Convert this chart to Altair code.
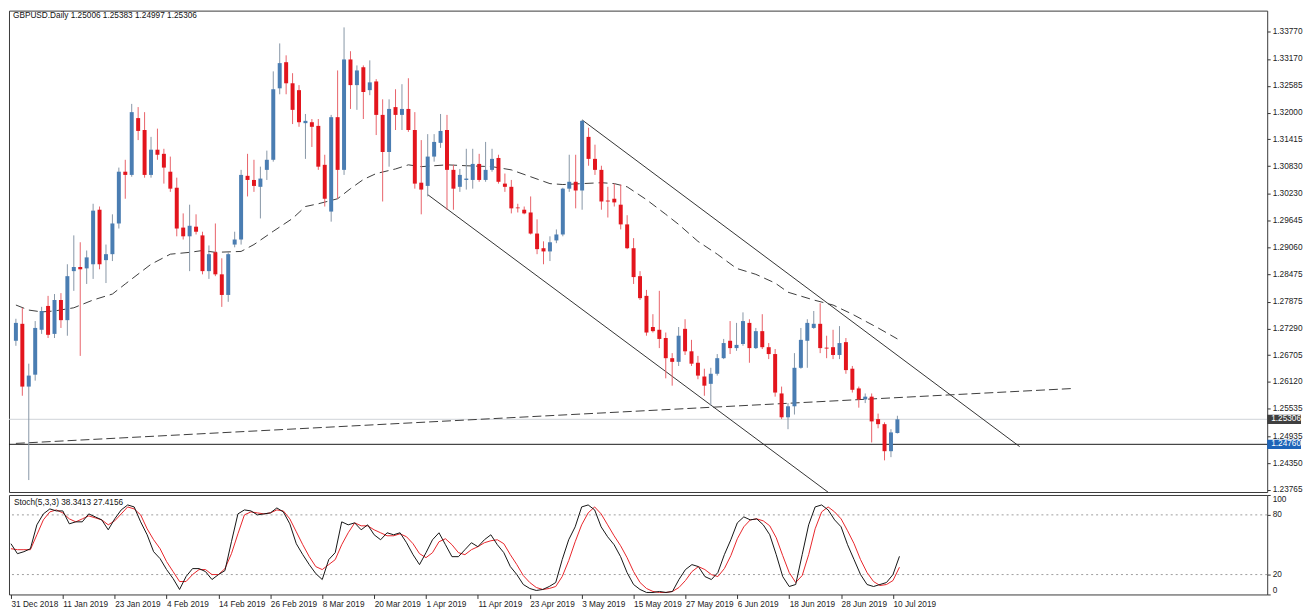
import altair as alt
import pandas as pd

# ---------------- data ----------------
date_labels = ["31 Dec 2018", "11 Jan 2019", "23 Jan 2019", "4 Feb 2019", "14 Feb 2019",
               "26 Feb 2019", "8 Mar 2019", "20 Mar 2019", "1 Apr 2019", "11 Apr 2019",
               "23 Apr 2019", "3 May 2019", "15 May 2019", "27 May 2019", "6 Jun 2019",
               "18 Jun 2019", "28 Jun 2019", "10 Jul 2019"]

opens = [1.2702, 1.2739, 1.2602, 1.2628, 1.2726, 1.2778, 1.2717, 1.2791, 1.2747, 1.2854,
         1.2863, 1.2860, 1.2869, 1.2988, 1.2878, 1.2891, 1.2958, 1.3071, 1.3064, 1.3188,
         1.3162, 1.3064, 1.3119, 1.3110, 1.3071, 1.3036, 1.2949, 1.2930, 1.2951, 1.2932,
         1.2854, 1.2895, 1.2847, 1.2802, 1.2912, 1.2923, 1.3062, 1.3053, 1.3038, 1.3075,
         1.3097, 1.3253, 1.3310, 1.3264, 1.3249, 1.3177, 1.3179, 1.3171, 1.3086, 1.2984,
         1.3190, 1.3075, 1.3316, 1.3260, 1.3299, 1.3249, 1.3268, 1.3195, 1.3114, 1.3212,
         1.3195, 1.3208, 1.3162, 1.3047, 1.3040, 1.3104, 1.3134, 1.3162, 1.3075, 1.3038,
         1.3053, 1.3053, 1.3088, 1.3053, 1.3075, 1.3101, 1.3045, 1.3038, 1.2993, 1.2988,
         1.2982, 1.2936, 1.2904, 1.2897, 1.2921, 1.2934, 1.3034, 1.3049, 1.3030, 1.3147,
         1.3099, 1.3075, 1.3008, 1.3012, 1.2999, 1.2956, 1.2904, 1.2843, 1.2800, 1.2732,
         1.2726, 1.2708, 1.2664, 1.2656, 1.2728, 1.2679, 1.2654, 1.2624, 1.2608, 1.2630,
         1.2664, 1.2702, 1.2686, 1.2695, 1.2741, 1.2686, 1.2723, 1.2688, 1.2673, 1.2587,
         1.2535, 1.2559, 1.2643, 1.2702, 1.2730, 1.2739, 1.2687, 1.2688, 1.2671, 1.2699,
         1.2641, 1.2598, 1.2574, 1.2580, 1.2531, 1.2520, 1.2461, 1.25006]
highs = [1.2750, 1.2774, 1.2652, 1.2745, 1.2776, 1.2800, 1.2804, 1.2806, 1.2869, 1.2932,
         1.2917, 1.2899, 1.3001, 1.2995, 1.2912, 1.2978, 1.3080, 1.3097, 1.3219, 1.3212,
         1.3201, 1.3147, 1.3165, 1.3121, 1.3104, 1.3058, 1.2980, 1.2999, 1.2978, 1.2940,
         1.2910, 1.2958, 1.2882, 1.2895, 1.2940, 1.3075, 1.3110, 1.3097, 1.3082, 1.3117,
         1.3290, 1.3351, 1.3325, 1.3286, 1.3260, 1.3197, 1.3186, 1.3186, 1.3108, 1.3195,
         1.3292, 1.3386, 1.3334, 1.3303, 1.3303, 1.3314, 1.3273, 1.3229, 1.3229, 1.3251,
         1.3262, 1.3275, 1.3201, 1.3140, 1.3153, 1.3153, 1.3197, 1.3195, 1.3086, 1.3077,
         1.3121, 1.3121, 1.3110, 1.3136, 1.3121, 1.3108, 1.3067, 1.3053, 1.3001, 1.2995,
         1.3017, 1.2967, 1.2919, 1.2930, 1.2945, 1.3036, 1.3108, 1.3108, 1.3184, 1.3167,
         1.3130, 1.3084, 1.3038, 1.3045, 1.3043, 1.2976, 1.2926, 1.2854, 1.2813, 1.2760,
         1.2811, 1.2720, 1.2675, 1.2732, 1.2749, 1.2704, 1.2669, 1.2641, 1.2643, 1.2673,
         1.2706, 1.2745, 1.2741, 1.2764, 1.2749, 1.2730, 1.2760, 1.2697, 1.2684, 1.2602,
         1.2566, 1.2675, 1.2730, 1.2749, 1.2767, 1.2784, 1.2713, 1.2726, 1.2734, 1.2708,
         1.2647, 1.2602, 1.2587, 1.2587, 1.2543, 1.2524, 1.2509, 1.25383]
lows = [1.2691, 1.2582, 1.2398, 1.2615, 1.2717, 1.2708, 1.2708, 1.2730, 1.2713, 1.2811,
        1.2669, 1.2826, 1.2837, 1.2858, 1.2828, 1.2876, 1.2947, 1.3012, 1.3060, 1.3140,
        1.3058, 1.3058, 1.3097, 1.3045, 1.3027, 1.2930, 1.2923, 1.2854, 1.2934, 1.2847,
        1.2837, 1.2843, 1.2776, 1.2787, 1.2906, 1.2912, 1.3017, 1.3027, 1.2969, 1.3053,
        1.3093, 1.3240, 1.3240, 1.3175, 1.3169, 1.3099, 1.3125, 1.3075, 1.2995, 1.2962,
        1.3012, 1.3064, 1.3208, 1.3206, 1.3186, 1.3238, 1.3151, 1.3006, 1.3082, 1.3162,
        1.3162, 1.3158, 1.3034, 1.2978, 1.3017, 1.3093, 1.3123, 1.2988, 1.2988, 1.3027,
        1.3032, 1.3034, 1.3049, 1.3049, 1.3071, 1.3045, 1.3027, 1.2980, 1.2982, 1.2978,
        1.2934, 1.2891, 1.2869, 1.2876, 1.2915, 1.2930, 1.3027, 1.2991, 1.2988, 1.3084,
        1.3064, 1.2988, 1.2971, 1.2995, 1.2945, 1.2902, 1.2826, 1.2791, 1.2713, 1.2720,
        1.2686, 1.2620, 1.2604, 1.2647, 1.2671, 1.2647, 1.2618, 1.2582, 1.2561, 1.2626,
        1.2662, 1.2673, 1.2680, 1.2691, 1.2654, 1.2684, 1.2684, 1.2662, 1.2580, 1.2531,
        1.2509, 1.2541, 1.2641, 1.2643, 1.2728, 1.2675, 1.2664, 1.2662, 1.2662, 1.2630,
        1.2589, 1.2556, 1.2566, 1.2480, 1.2511, 1.2441, 1.2448, 1.24997]
closes = [1.2741, 1.2602, 1.2626, 1.2730, 1.2767, 1.2715, 1.2791, 1.2747, 1.2843, 1.2863,
          1.2858, 1.2884, 1.2986, 1.2869, 1.2891, 1.2958, 1.3071, 1.3064, 1.3201, 1.3160,
          1.3064, 1.3119, 1.3108, 1.3080, 1.3034, 1.2947, 1.2930, 1.2953, 1.2940, 1.2854,
          1.2891, 1.2847, 1.2802, 1.2891, 1.2923, 1.3064, 1.3053, 1.3040, 1.3056, 1.3097,
          1.3251, 1.3308, 1.3264, 1.3206, 1.3179, 1.3182, 1.3169, 1.3082, 1.3012, 1.3190,
          1.3075, 1.3316, 1.3260, 1.3292, 1.3245, 1.3266, 1.3195, 1.3114, 1.3208, 1.3195,
          1.3208, 1.3162, 1.3045, 1.3032, 1.3104, 1.3136, 1.3160, 1.3075, 1.3034, 1.3064,
          1.3056, 1.3088, 1.3053, 1.3075, 1.3099, 1.3049, 1.3038, 1.2991, 1.2991, 1.2980,
          1.2936, 1.2902, 1.2897, 1.2917, 1.2934, 1.3034, 1.3049, 1.3030, 1.3182, 1.3099,
          1.3075, 1.3006, 1.3006, 1.3004, 1.2956, 1.2904, 1.2841, 1.2795, 1.2720, 1.2723,
          1.2706, 1.2664, 1.2656, 1.2713, 1.2679, 1.2652, 1.2626, 1.2604, 1.2630, 1.2664,
          1.2697, 1.2686, 1.2693, 1.2745, 1.2686, 1.2723, 1.2688, 1.2673, 1.2589, 1.2535,
          1.2559, 1.2643, 1.2704, 1.2741, 1.2739, 1.2686, 1.2685, 1.2671, 1.2697, 1.2638,
          1.2595, 1.2574, 1.2580, 1.2526, 1.2520, 1.2461, 1.2502, 1.25306]

# dashed moving average (bar index, price)
ma_bar = [0, 2, 4, 6, 9, 12, 15, 17, 21, 24, 27, 29, 31, 35, 37, 40, 43, 45, 47, 50,
          52, 54, 56, 59, 61, 63, 67, 70, 74, 77, 80, 83, 85, 88, 91, 93, 95, 98, 101, 103,
          106, 109, 112, 115, 118, 120, 124, 127, 130, 134, 137]
ma_val = [1.2780, 1.2769, 1.2765, 1.2767, 1.2774, 1.2791, 1.2804, 1.2826, 1.2869, 1.2891,
          1.2895, 1.2899, 1.2895, 1.2897, 1.2912, 1.2941, 1.2969, 1.2995, 1.3001, 1.3012,
          1.3034, 1.3054, 1.3067, 1.3077, 1.3086, 1.3082, 1.3086, 1.3084, 1.3082, 1.3075,
          1.3060, 1.3045, 1.3043, 1.3045, 1.3047, 1.3045, 1.3038, 1.3010, 1.2978, 1.2956,
          1.2919, 1.2891, 1.2860, 1.2847, 1.2828, 1.2808, 1.2791, 1.2780, 1.2760, 1.2730,
          1.2706]

# drawn trend lines: (name, bar, price)
trend_name = ["lower", "lower", "upper", "upper"]
trend_bar = [64, 128, 88, 156]
trend_price = [1.3021, 1.2353, 1.3184, 1.2471]
long_bar = [0, 164.5]
long_price = [1.2478, 1.2598]
hline_price = [1.24760]

price_ticks = [1.23765, 1.24350, 1.24935, 1.25535, 1.26120, 1.26705, 1.27290, 1.27875,
               1.28475, 1.29060, 1.29645, 1.30230, 1.30830, 1.31415, 1.32000, 1.32585,
               1.33170, 1.33770]

# Stochastic(5,3,3)
stoch_k = [51, 41, 43, 46, 70, 81, 86, 84, 84, 71, 73, 73, 81, 78, 75, 65, 76, 85, 90, 88,
           73, 60, 43, 36, 25, 16, 5, 18, 26, 26, 23, 15, 20, 24, 53, 81, 85, 84, 80, 81,
           82, 87, 83, 71, 51, 40, 30, 21, 15, 35, 42,
           73, 70, 72, 65, 70, 60, 55, 62, 60, 62, 52, 40, 30, 42, 55, 62, 50, 38, 38, 45,
           52, 48, 55, 60, 50, 42, 28, 20, 10, 6, 4, 5, 8, 12, 35, 55, 68, 88, 90, 85,
           68, 58, 50, 38, 22, 10, 5, 2, 2, 3, 2, 3, 15, 25, 30, 28, 18, 15, 22, 40,
           55, 72, 78, 75, 76, 70, 60, 40, 18, 8, 10, 40, 70, 88, 90, 85, 75, 68, 50, 35,
           20, 10, 8, 10, 12, 20, 38.3413]
stoch_d = [46, 45, 45, 45, 60, 75, 83, 85, 82, 76, 73, 76, 79, 77, 75, 70, 74, 81, 88, 86,
           80, 66, 55, 46, 33, 23, 13, 13, 20, 25, 25, 20, 20, 26, 41, 61, 80, 83, 82, 81,
           82, 85, 84, 76, 63, 50, 38, 28, 25, 30, 35,
           50, 62, 72, 69, 69, 65, 62, 59, 59, 61, 58, 51, 41, 37, 42, 53, 56, 50, 42, 40,
           45, 48, 52, 54, 55, 51, 40, 30, 19, 12, 7, 5, 6, 8, 18, 34, 53, 70, 82, 88,
           81, 70, 59, 49, 37, 23, 12, 6, 3, 2, 2, 3, 7, 14, 23, 28, 25, 20, 18, 26,
           39, 56, 68, 75, 76, 74, 69, 57, 39, 22, 12, 19, 40, 66, 83, 88, 83, 76, 64, 51,
           35, 22, 13, 9, 10, 14, 27.4156]
stoch_levels = [20, 80]
stoch_ticks = [0, 20, 80, 100]

# ---------------- chart ----------------
FONT = "Liberation Sans"
FS = 8.3
BLUE = "#4a7db2"
RED = "#e3151d"
BLUE_WICK = "#8796a6"
RED_WICK = "#e8636a"

W = 1265
H_MAIN = 484
H_STO = 100
X_DOMAIN = [-0.3, 193.7]
Y_DOMAIN = [1.23719, 1.34226]

n = len(opens)
candles = pd.DataFrame({"bar": list(range(n)), "open": opens, "high": highs,
                        "low": lows, "close": closes})

xs = alt.X("bar:Q", scale=alt.Scale(domain=X_DOMAIN, nice=False, zero=False), axis=None)
yscale = alt.Scale(domain=Y_DOMAIN, nice=False, zero=False)
yaxis = alt.Axis(orient="right", values=price_ticks, format=".5f", tickSize=3,
                 labelPadding=2, grid=False, labelOverlap=False, title=None,
                 labelFont=FONT, labelFontSize=FS, labelColor="#222", tickColor="#333",
                 domain=False)


def Y(field):
    return alt.Y(field, scale=yscale, axis=yaxis)


up = "datum.close >= datum.open"

wicks = alt.Chart(candles).mark_rule(strokeWidth=1).encode(
    x=xs, y=Y("low:Q"), y2="high:Q",
    color=alt.condition(up, alt.value(BLUE_WICK), alt.value(RED_WICK)))
bodies = alt.Chart(candles).mark_bar(size=4).encode(
    x=xs, y=Y("open:Q"), y2="close:Q",
    color=alt.condition(up, alt.value(BLUE), alt.value(RED)))

bid = alt.Chart(pd.DataFrame({"price": [closes[-1]]})).mark_rule(
    color="#cfd3d8", strokeWidth=1).encode(y=Y("price:Q"))
hline = alt.Chart(pd.DataFrame({"price": hline_price})).mark_rule(
    color="#1a1a1a", strokeWidth=1).encode(y=Y("price:Q"))

ma = alt.Chart(pd.DataFrame({"bar": ma_bar, "price": ma_val})).mark_line(
    color="#3c3c3c", strokeWidth=1, strokeDash=[9, 5], clip=True).encode(
    x=xs, y=Y("price:Q"))
trends = alt.Chart(pd.DataFrame({"line": trend_name, "bar": trend_bar, "price": trend_price})).mark_line(
    color="#333333", strokeWidth=1, clip=True).encode(
    x=xs, y=Y("price:Q"), detail="line:N")
longline = alt.Chart(pd.DataFrame({"bar": long_bar, "price": long_price})).mark_line(
    color="#3c3c3c", strokeWidth=1, strokeDash=[9, 4], clip=True).encode(
    x=xs, y=Y("price:Q"))

title_txt = "GBPUSD.Daily  {:.5f} {:.5f} {:.5f} {:.5f}".format(opens[-1], highs[-1], lows[-1], closes[-1])
title = alt.Chart(pd.DataFrame({"t": [title_txt]})).mark_text(
    align="left", baseline="middle", font=FONT, fontSize=FS, color="#111").encode(
    x=alt.value(4), y=alt.value(5), text="t:N")

boxes = pd.DataFrame({"price": [closes[-1], hline_price[0]],
                      "label": ["{:.5f}".format(closes[-1]), "{:.5f}".format(hline_price[0])],
                      "fill": ["#3f3f3f", "#1d64b8"]})
box_rect = alt.Chart(boxes).mark_rect(clip=False).transform_calculate(
    lo="datum.price - 0.00100", hi="datum.price + 0.00100").encode(
    x=alt.value(W), x2=alt.value(W + 34), y=Y("lo:Q"), y2="hi:Q",
    color=alt.Color("fill:N", scale=None))
box_text = alt.Chart(boxes).mark_text(
    align="left", baseline="middle", font=FONT, fontSize=FS, color="#ffffff", clip=False).encode(
    x=alt.value(W + 4), y=Y("price:Q"), text="label:N")

main = alt.layer(bid, hline, longline, ma, trends, wicks, bodies, title, box_rect, box_text).properties(
    width=W, height=H_MAIN)

# ---- stochastic panel ----
sto = pd.DataFrame({"bar": list(range(n)), "k": stoch_k, "d": stoch_d})
label_arr = "[" + ",".join("'{}'".format(s) for s in date_labels) + "]"
xaxis = alt.Axis(values=list(range(0, 8 * len(date_labels), 8)),
                 labelExpr=label_arr + "[round(datum.value / 8)]",
                 labelAlign="left", tickSize=4, labelPadding=1, grid=False, title=None,
                 labelFont=FONT, labelFontSize=FS, labelColor="#222", tickColor="#333",
                 domain=False, labelOverlap=False)
xs2 = alt.X("bar:Q", scale=alt.Scale(domain=X_DOMAIN, nice=False, zero=False), axis=xaxis)
sscale = alt.Scale(domain=[0, 100], nice=False, zero=False)
saxis = alt.Axis(orient="right", values=stoch_ticks, tickSize=3, labelPadding=2, grid=False,
                 title=None, labelFont=FONT, labelFontSize=FS, labelColor="#222",
                 tickColor="#333", domain=False, labelOverlap=False, labelFlush=True)

levels = alt.Chart(pd.DataFrame({"lv": stoch_levels})).mark_rule(
    color="#9d9d9d", strokeWidth=1, strokeDash=[2, 3]).encode(
    y=alt.Y("lv:Q", scale=sscale, axis=saxis))
kline = alt.Chart(sto).mark_line(color="#151515", strokeWidth=1, clip=True).encode(
    x=xs2, y=alt.Y("k:Q", scale=sscale, axis=saxis))
dline = alt.Chart(sto).mark_line(color="#e8262b", strokeWidth=1, clip=True).encode(
    x=xs2, y=alt.Y("d:Q", scale=sscale, axis=saxis))
sto_title = "Stoch(5,3,3) {:.4f} {:.4f}".format(stoch_k[-1], stoch_d[-1])
stitle = alt.Chart(pd.DataFrame({"t": [sto_title]})).mark_text(
    align="left", baseline="middle", font=FONT, fontSize=FS, color="#111").encode(
    x=alt.value(5), y=alt.value(8), text="t:N")

stoch = alt.layer(levels, dline, kline, stitle).properties(width=W, height=H_STO)

chart = alt.vconcat(main, stoch, spacing=3, bounds="flush").properties(
    padding={"left": 0, "top": 0, "right": 0, "bottom": 0},
    background="#ffffff"
).configure_view(stroke="#3a3a3a", strokeWidth=1)

chart.save("out.html", embed_options={"renderer": "svg", "actions": False})
